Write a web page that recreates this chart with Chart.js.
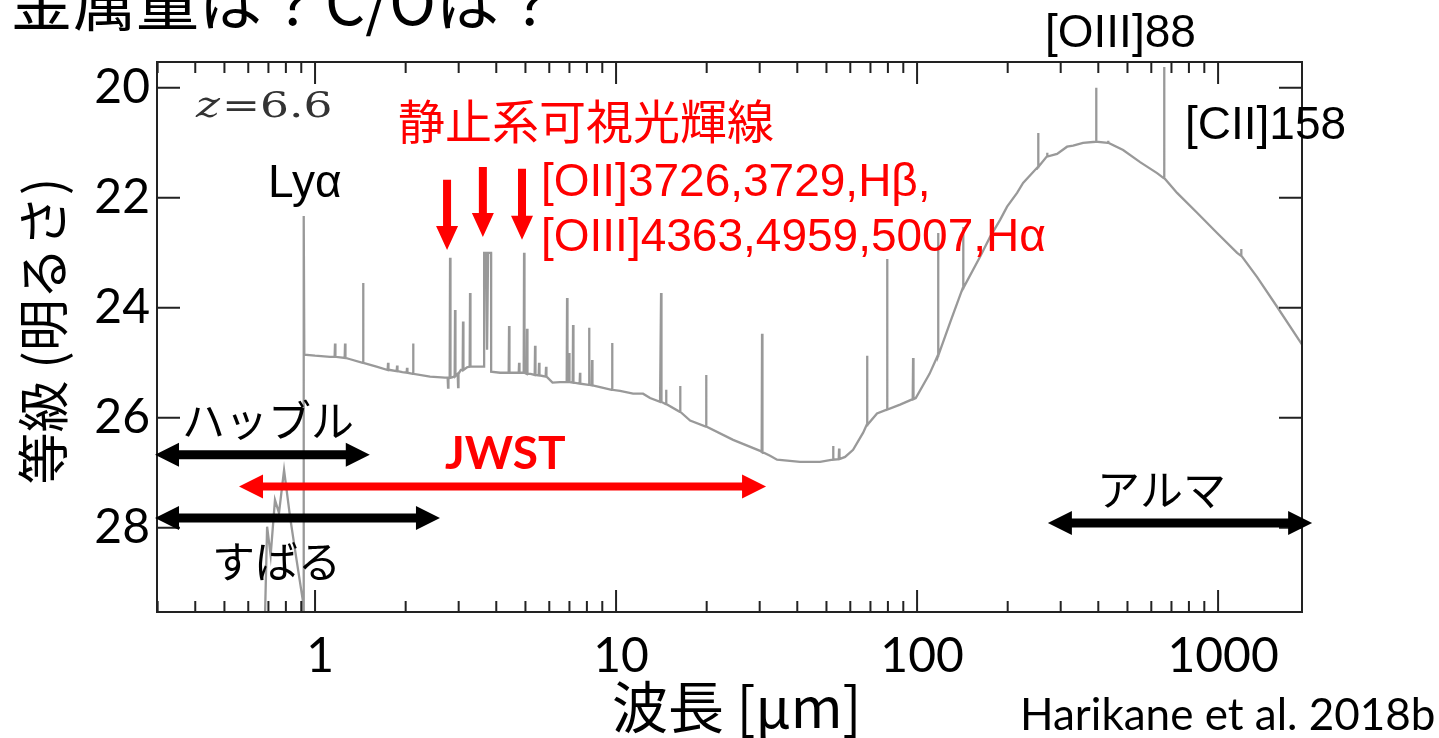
<!DOCTYPE html>
<html>
<head>
<meta charset="utf-8">
<script src="https://cdn.jsdelivr.net/npm/chart.js@4.4.1/dist/chart.umd.min.js"></script>
<style>
  html, body { margin: 0; padding: 0; background: #fff; }
  canvas { display: block; }
</style>
</head>
<body>
<canvas id="sed" width="1439" height="738"></canvas>
<script>
// z=6.6 model SED, observed wavelength [um] vs magnitude
// continuum, incl. the noisy part blueward of Lya and the blended [OIII]+Hb block
const contWl = [
  0.66, 0.682, 0.693, 0.712, 0.736, 0.759, 0.789, 0.826, 0.858, 0.892, 0.910, 0.916, 0.917, 0.921,
  0.926, 1.0, 1.122, 1.3, 1.444, 1.6, 1.775, 1.95, 2.117, 2.41, 2.70, 2.87, 2.95, 3.05, 3.2, 3.4,
  3.643, 3.645, 3.70, 3.728, 3.757, 3.844, 3.846, 4.118, 4.6, 5.2, 5.6, 5.9, 6.15, 6.516, 7.0, 7.6,
  8.134, 8.847, 9.7, 10.31, 11.39, 12.29, 12.97, 14.0, 14.66, 16.32, 17.62, 19.91, 24.48, 30.09,
  32.48, 34.26, 40.86, 47.61, 52.6, 57.66, 61.3, 66.2, 68.2, 73.6, 79.5, 87.8, 99.0, 110.0, 117.4,
  128.7, 142.2, 161.9, 174.8, 188.7, 199.1, 214.9, 225.0, 252.4, 270.4, 291.8, 315.0, 329.9, 356.0,
  393.3, 431.1, 483.6, 550.7, 627.1, 661.5, 730.8, 851.5, 992.4, 1156.7, 1192.6, 1348, 1570, 1901
];
const contMag = [
  31.0, 29.6, 27.98, 28.5, 27.49, 27.73, 26.95, 27.8, 28.4, 29.0, 29.31, 31.0, 22.33, 24.85,
  24.85, 24.87, 24.89, 24.93, 25.0, 25.07, 25.13, 25.17, 25.2, 25.25, 25.27, 25.26, 25.22, 25.13, 25.08, 25.07,
  25.07, 23.0, 23.0, 24.76, 23.0, 23.0, 25.16, 25.18, 25.18, 25.2, 25.23, 25.26, 25.36, 25.35, 25.35, 25.38,
  25.4, 25.44, 25.49, 25.51, 25.56, 25.56, 25.64, 25.71, 25.75, 25.89, 26.05, 26.16, 26.4, 26.6,
  26.69, 26.76, 26.8, 26.8, 26.76, 26.71, 26.58, 26.27, 26.13, 25.92, 25.85, 25.76, 25.64, 25.2, 24.87,
  24.27, 23.64, 23.07, 22.71, 22.4, 22.16, 21.91, 21.73, 21.44, 21.25, 21.2, 21.07, 21.05, 21.0,
  20.98, 21.0, 21.13, 21.35, 21.55, 21.64, 21.91, 22.27, 22.64, 23.0, 23.05, 23.44, 23.98, 24.67
];

// narrow emission lines (and a couple of dips): wavelength, level under the line, tip
const lineWl = [
  1.165, 1.258, 1.444, 1.748, 1.873, 2.021, 2.117, 2.766, 2.809, 2.918, 2.987, 3.102, 3.273,
  4.411, 4.763, 4.948, 5.062, 5.382, 5.549, 5.853, 6.875, 6.982, 7.197, 7.59, 8.134, 8.323, 9.70,
  14.11, 14.66, 16.32, 19.91, 30.55, 52.6, 55.07, 68.2, 79.5, 97.0, 117.4, 142.2, 252.4, 270.4,
  393.3, 431.1, 661.5, 1192.6
];
const lineBase = [
  24.89, 24.91, 25.0, 25.13, 25.15, 25.18, 25.2, 25.27, 25.27, 25.24, 25.2, 25.13, 25.07,
  25.18, 25.18, 25.18, 25.2, 25.22, 25.23, 25.25, 25.35, 25.35, 25.36, 25.38, 25.4, 25.41, 25.49,
  25.71, 25.75, 25.89, 26.16, 26.62, 26.76, 26.75, 26.13, 25.85, 25.66, 24.87, 23.64, 21.44, 21.25,
  20.98, 21.0, 21.64, 23.05
];
const linePeak = [
  24.65, 24.65, 23.55, 25.0, 25.05, 25.09, 24.65, 25.45, 23.09, 24.04, 25.44, 24.25, 23.73,
  24.33, 25.0, 23.0, 24.38, 24.69, 25.0, 25.07, 23.82, 24.82, 24.31, 25.18, 24.36, 24.95, 24.64,
  23.73, 25.49, 25.42, 25.22, 24.47, 26.51, 26.56, 24.87, 23.11, 24.91, 22.64, 22.53, 20.82, 21.18,
  20.0, 20.96, 19.62, 22.93
];

const xMajorTicks = [1, 10, 100, 1000];
const yTicks = [20, 22, 24, 26, 28];

// telescope coverage arrows
const rangeNames = ['ハッブル', 'JWST', 'すばる', 'アルマ'];
const rangeFrom = [0.294, 0.559, 0.294, 272];
const rangeTo = [1.52, 31.5, 2.60, 2053];
const rangeMag = [26.67, 27.25, 27.82, 27.91];

// red pointers to the rest-frame optical lines
const pointerWl = [2.745, 3.61, 4.87];
const pointerFrom = [21.67, 21.44, 21.47];
const pointerTo = [22.95, 22.71, 22.76];

// build the spectrum: continuum + thin spikes
const spectrum = contWl.map((w, i) => ({ x: w, y: contMag[i] }));
lineWl.forEach((w, i) => {
    spectrum.push({ x: w / 1.003, y: lineBase[i] }, { x: w, y: linePeak[i] }, { x: w * 1.003, y: lineBase[i] });
});
spectrum.sort((a, b) => a.x - b.x);

function hArrow(ctx, x1, x2, y, color, shaft, headLen, headHalf) {
    ctx.fillStyle = color;
    ctx.beginPath();
    ctx.moveTo(x1, y);
    ctx.lineTo(x1 + headLen, y - headHalf);
    ctx.lineTo(x1 + headLen, y - shaft / 2);
    ctx.lineTo(x2 - headLen, y - shaft / 2);
    ctx.lineTo(x2 - headLen, y - headHalf);
    ctx.lineTo(x2, y);
    ctx.lineTo(x2 - headLen, y + headHalf);
    ctx.lineTo(x2 - headLen, y + shaft / 2);
    ctx.lineTo(x1 + headLen, y + shaft / 2);
    ctx.lineTo(x1 + headLen, y + headHalf);
    ctx.closePath();
    ctx.fill();
}

function downArrow(ctx, x, y1, y2, color, shaft, headLen, headHalf) {
    ctx.fillStyle = color;
    ctx.beginPath();
    ctx.moveTo(x - shaft / 2, y1);
    ctx.lineTo(x + shaft / 2, y1);
    ctx.lineTo(x + shaft / 2, y2 - headLen);
    ctx.lineTo(x + headHalf, y2 - headLen);
    ctx.lineTo(x, y2);
    ctx.lineTo(x - headHalf, y2 - headLen);
    ctx.lineTo(x - shaft / 2, y2 - headLen);
    ctx.closePath();
    ctx.fill();
}

function text(ctx, s, x, y, font, color, align) {
    ctx.font = font;
    ctx.fillStyle = color;
    ctx.textAlign = align || 'left';
    ctx.textBaseline = 'alphabetic';
    ctx.fillText(s, x, y);
}

const sedDecor = {
    id: 'sedDecor',
    afterDatasetsDraw(chart) {
        const { ctx, chartArea: a, scales: { x, y } } = chart;
        ctx.save();

        // frame + inward ticks
        ctx.strokeStyle = '#222';
        ctx.lineWidth = 2;
        ctx.strokeRect(a.left, a.top, a.right - a.left, a.bottom - a.top);
        ctx.beginPath();
        xMajorTicks.forEach(v => {
            const px = x.getPixelForValue(v);
            ctx.moveTo(px, a.top); ctx.lineTo(px, a.top + 22);
            ctx.moveTo(px, a.bottom); ctx.lineTo(px, a.bottom - 22);
        });
        [0.1, 1, 10, 100, 1000].forEach(d => {
            for (let m = 2; m <= 9; m++) {
                const v = d * m;
                if (v <= x.min || v >= x.max) continue;
                const px = x.getPixelForValue(v);
                ctx.moveTo(px, a.top); ctx.lineTo(px, a.top + 11);
                ctx.moveTo(px, a.bottom); ctx.lineTo(px, a.bottom - 11);
            }
        });
        yTicks.forEach(v => {
            const py = y.getPixelForValue(v);
            ctx.moveTo(a.left, py); ctx.lineTo(a.left + 23, py);
            ctx.moveTo(a.right, py); ctx.lineTo(a.right - 23, py);
        });
        ctx.stroke();

        // coverage arrows
        rangeNames.forEach((n, i) => {
            const col = n === 'JWST' ? '#ff0000' : '#000';
            const shaft = n === 'JWST' ? 8 : 9;
            hArrow(ctx, x.getPixelForValue(rangeFrom[i]), x.getPixelForValue(rangeTo[i]),
                y.getPixelForValue(rangeMag[i]), col, shaft, 24, 12);
        });
        pointerWl.forEach((w, i) => {
            downArrow(ctx, x.getPixelForValue(w), y.getPixelForValue(pointerFrom[i]),
                y.getPixelForValue(pointerTo[i]), '#ff0000', 8, 24, 11);
        });

        // z label (matplotlib text, stretched like the figure)
        ctx.save();
        ctx.translate(196, 117);
        ctx.scale(1.3, 1);
        text(ctx, 'z', 0, 0, 'italic 35px "DejaVu Serif"', '#333');
        text(ctx, '=6.6', 20, 0, '35px "DejaVu Serif"', '#333');
        ctx.restore();

        // annotations
        const jp = '"Noto Sans CJK JP"';
        text(ctx, '金属量は？C/Oは？', 10, 25, '63px ' + jp, '#000');
        text(ctx, '[OIII]88', 1045, 47, '46px "Liberation Sans"', '#000');
        text(ctx, '[CII]158', 1185, 139, '46px "Liberation Sans"', '#000');
        text(ctx, 'Lyα', 268, 197, '46px "Liberation Sans"', '#000');
        text(ctx, '静止系可視光輝線', 398, 139, '47px ' + jp, '#ff0000');
        text(ctx, '[OII]3726,3729,Hβ,', 541, 196, '46px "Liberation Sans"', '#ff0000');
        text(ctx, '[OIII]4363,4959,5007,Hα', 541, 251, '46px "Liberation Sans"', '#ff0000');
        text(ctx, 'ハッブル', 182, 437, '43px ' + jp, '#000');
        text(ctx, 'JWST', 445, 469, 'bold 46px Lato', '#ff0000');
        text(ctx, 'すばる', 212, 578, '43px ' + jp, '#000');
        text(ctx, 'アルマ', 1097, 506, '43px ' + jp, '#000');
        text(ctx, '波長 [μm]', 612, 728, '56px ' + jp, '#000');
        text(ctx, 'Harikane et al. 2018b', 1020, 730, '44px Lato', '#000');

        ctx.translate(43, 331);
        ctx.rotate(-Math.PI / 2);
        ctx.font = '52px ' + jp;
        ctx.fillStyle = '#000';
        ctx.textAlign = 'center';
        ctx.textBaseline = 'middle';
        ctx.fillText('等級 (明るさ)', 0, 0);

        ctx.restore();
    }
};

new Chart(document.getElementById('sed'), {
    type: 'scatter',
    data: {
        datasets: [{
            data: spectrum,
            showLine: true,
            borderColor: '#999',
            borderWidth: 2.3,
            pointRadius: 0,
            tension: 0
        }]
    },
    options: {
        responsive: false,
        animation: false,
        events: [],
        layout: { padding: { top: 62, right: 137, bottom: 0, left: 0 } },
        plugins: {
            legend: { display: false },
            tooltip: { enabled: false }
        },
        scales: {
            x: {
                type: 'logarithmic',
                min: 0.2985,
                max: 1900,
                bounds: 'data',
                grid: { display: false, drawTicks: false },
                border: { display: false },
                ticks: {
                    autoSkip: false,
                    maxRotation: 0,
                    padding: 16,
                    labelOffset: 5,
                    color: '#000',
                    font: { family: 'Lato', size: 48 },
                    callback: v => String(v)
                },
                afterBuildTicks: s => { s.ticks = xMajorTicks.map(v => ({ value: v })); },
                afterFit: s => { s.height = 126; }
            },
            y: {
                type: 'linear',
                reverse: true,
                min: 19.53,
                max: 29.53,
                bounds: 'data',
                grid: { display: false, drawTicks: false },
                border: { display: false },
                ticks: {
                    padding: 7,
                    color: '#000',
                    font: { family: 'Lato', size: 48 },
                    callback: v => String(v)
                },
                afterBuildTicks: s => { s.ticks = yTicks.map(v => ({ value: v })); },
                afterFit: s => { s.width = 157; }
            }
        }
    },
    plugins: [sedDecor]
});
</script>
</body>
</html>
